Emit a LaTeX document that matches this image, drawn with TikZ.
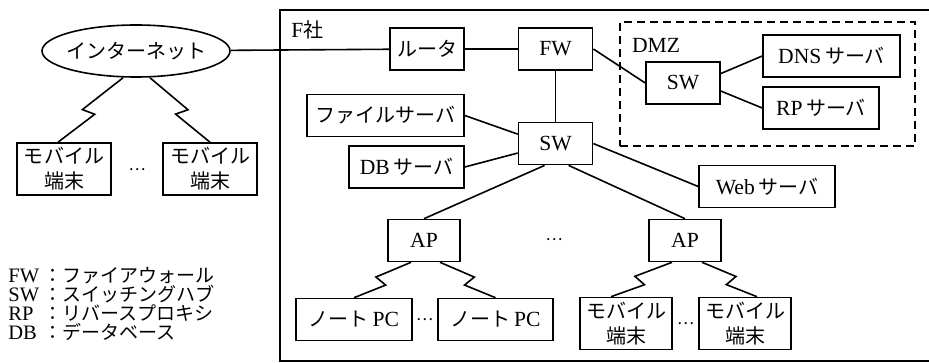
\documentclass[tikz,border=0pt]{standalone}
\usepackage{fontspec}
\setmainfont{Liberation Serif}[Scale=1.08]
\newfontfamily\jpfont{Noto Sans CJK JP}
\usetikzlibrary{positioning, calc, shapes.geometric}
\newcommand{\ja}[1]{{\jpfont #1}}
% wireless hop: straight line broken by a small zigzag
\newcommand{\radiolink}[3]{%
  \draw[link] (#1) -- ($(#1)!0.56!(#2)!3pt!#3:(#2)$)
    -- ($(#1)!0.5!(#2)!3pt!#3:(#1)$) -- (#2);}
\tikzset{
  devbox/.style={
    draw,
    line width=0.8pt,
    minimum height=21pt,
    inner sep=1pt,
    align=center,
    font=\fontsize{10}{12}\selectfont
  },
  mobilebox/.style={devbox, minimum width=47pt, minimum height=26pt, font=\fontsize{10}{12.5}\selectfont},
  netcloud/.style={
    ellipse,
    draw,
    line width=0.8pt,
    minimum width=94pt,
    minimum height=26pt,
    inner xsep=-2pt,
    inner ysep=0pt,
    font=\fontsize{10}{12}\selectfont
  },
  link/.style={line width=0.8pt},
  outerframe/.style={line width=1pt},
  zone/.style={draw, line width=1pt, dash pattern=on 4pt off 2.5pt},
  ellip/.style={inner sep=0pt, font=\fontsize{8}{9}\jpfont},
  plainlabel/.style={inner sep=0pt, font=\fontsize{10}{12}\selectfont},
  legendtext/.style={align=left, anchor=west, inner sep=0pt, font=\fontsize{9.5}{9.6}\selectfont}
}

\begin{document}
\begin{tikzpicture}[x=0.5pt, y=-0.5pt, node distance=25.5pt and 26.5pt]
  \useasboundingbox (0,0) rectangle (929,363);

  % company frame, open on the right
  \draw[outerframe] (929,10) -- (280,10) -- (280,361) -- (929,361);
  \node[plainlabel, anchor=west] (fsha) at (291,30) {F\ja{社}};
  \node[zone, minimum width=147.5pt, minimum height=62pt] (dmz) at (767.5,84) {};
  \node[plainlabel] (dmzlabel) at (656,45) {DMZ};

  \node[netcloud] (inet) at (136,51) {\ja{インターネット}};
  \node[mobilebox] (mb1) at (64,169) {\ja{モバイル}\\\ja{端末}};
  \node[mobilebox] (mb2) at (210,169) {\ja{モバイル}\\\ja{端末}};
  \node[ellip] (dots1) at (137,170) {…};

  \node[devbox, minimum width=37pt] (router) at (427,49) {\ja{ルータ}};
  \node[devbox, minimum width=37pt, right=of router] (fw) {FW};
  \node[devbox, minimum width=37pt, below=of fw] (sw) {SW};
  \node[devbox, minimum width=78.5pt] (file) at (385.5,115.5) {\ja{ファイルサーバ}};
  \node[devbox, minimum width=57.5pt] (db) at (406.5,167) {DB\,\ja{サーバ}};

  \node[devbox, minimum width=37pt] (dsw) at (683,83) {SW};
  \node[devbox, minimum width=68.5pt] (dns) at (831.5,56) {DNS\,\ja{サーバ}};
  \node[devbox, minimum width=58pt] (rp) at (821,108) {RP\,\ja{サーバ}};
  \node[devbox, minimum width=68pt] (web) at (767,186.5) {Web\,\ja{サーバ}};

  \node[devbox, minimum width=36pt] (apL) at (424,240.5) {AP};
  \node[devbox, minimum width=36pt] (apR) at (685,240.5) {AP};
  \node[ellip] (dots2) at (554,240) {…};

  \node[devbox, minimum width=58pt] (pcL) at (354,319.5) {\ja{ノート}\,PC};
  \node[devbox, minimum width=57.5pt] (pcR) at (495.5,319.5) {\ja{ノート}\,PC};
  \node[ellip] (dots3) at (424.5,320) {…};
  \node[mobilebox, minimum width=46pt] (mb3) at (626,323.5) {\ja{モバイル}\\\ja{端末}};
  \node[mobilebox, minimum width=46pt] (mb4) at (745,323.5) {\ja{モバイル}\\\ja{端末}};
  \node[ellip] (dots4) at (685.5,324) {…};

  \node[legendtext] (legend) at (8,304) {%
    \makebox[17.5pt][l]{FW}\ja{：ファイアウォール}\\
    \makebox[17.5pt][l]{SW}\ja{：スイッチングハブ}\\
    \makebox[17.5pt][l]{RP}\ja{：リバースプロキシ}\\
    \makebox[17.5pt][l]{DB}\ja{：データベース}};

  \draw[link] (inet) -- (router);
  \draw[link] (router) -- (fw);
  \draw[link] (fw) -- (sw);
  \draw[link] (fw.east) -- (dsw.west);
  \draw[link] (dsw.14) -- (dns.west);
  \draw[link] (dsw.-12) -- (rp.west);
  \draw[link] (file.east) -- (sw.166);
  \draw[link] (db.east) -- (sw.194);
  \draw[link] (sw.east) -- (web.west);
  \draw[link] ([xshift=-5.5pt]sw.south) -- (apL.north);
  \draw[link] ([xshift=6.5pt]sw.south) -- (apR.north);

  \radiolink{[xshift=-6.5pt]inet.south}{[xshift=-3pt]mb1.north}{-90}
  \radiolink{[xshift=7pt]inet.south}{mb2.north}{90}
  \radiolink{[xshift=-6.5pt]apL.south}{pcL.north}{-90}
  \radiolink{[xshift=8pt]apL.south}{pcR.north}{90}
  \radiolink{[xshift=-6.5pt]apR.south}{[xshift=-7.5pt]mb3.north}{-90}
  \radiolink{[xshift=8.5pt]apR.south}{[xshift=6pt]mb4.north}{90}
\end{tikzpicture}
\end{document}
